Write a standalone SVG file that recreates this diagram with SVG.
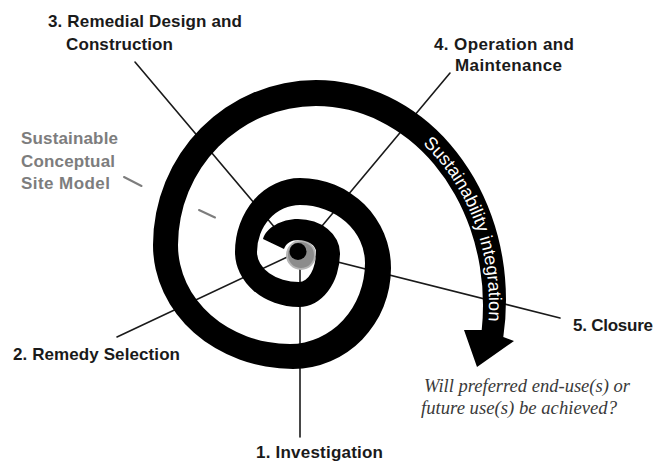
<svg xmlns="http://www.w3.org/2000/svg" width="654" height="464" viewBox="0 0 654 464">
<style>
.lbl{font-family:"Liberation Sans",Arial,sans-serif;font-weight:bold;font-size:17px;fill:#1a1a1a}
.gray{font-family:"Liberation Sans",Arial,sans-serif;font-weight:bold;font-size:17px;fill:#7d7d7d}
.q{font-family:"Liberation Serif","Times New Roman",serif;font-style:italic;font-size:19px;fill:#3a3a3a}
.ln{stroke:#1a1a1a;stroke-width:1.6;fill:none;stroke-linecap:round}
.tick{stroke:#7d7d7d;stroke-width:2;stroke-linecap:round}
.band{font-family:"Liberation Sans",Arial,sans-serif;font-size:18px;fill:#ffffff}
</style>
<defs>
<path id="bandPath" d="M402.5,127.5 A173 205 0 0 1 486.4 340.6"/>
</defs>
<rect width="654" height="464" fill="#ffffff"/>
<g id="connectors">
<line class="ln" x1="300" y1="252" x2="300" y2="437"/>
<line class="ln" x1="117" y1="337" x2="298" y2="252"/>
<line class="ln" x1="135" y1="62" x2="276" y2="229"/>
<line class="ln" x1="450" y1="73" x2="322" y2="226"/>
<line class="ln" x1="560" y1="318" x2="298" y2="252"/>
</g>
<g id="center">
<circle cx="301" cy="255" r="14" fill="#8c8c8c" stroke="#b5b5b5" stroke-width="2"/>
</g>
<g id="spiral">
<path fill="#000000" d="M263,239 C266,228 281,219 298,219 A42 34 0 0 1 340 253 A41 54 0 0 1 299 307 A64 55 0 0 1 235 252 A65 74 0 0 1 300 178 A91 90 0 0 1 391 268 A98 101 0 0 1 293 369 A140 124 0 0 1 153 245 A163 165 0 0 1 316 80 A190 220 0 0 1 506 300 A190 220 0 0 1 503.3 337 L514 341 L477 367 L464 330 L481.7 330 A167 199 0 0 0 483 305 A167 199 0 0 0 316 106 A138 139 0 0 0 178 245 A112 99 0 0 0 290 344 A75 81 0 0 0 365 263 A65 58 0 0 0 300 205 A43 47 0 0 0 257 252 A42 30 0 0 0 299 282 A17 30 0 0 0 316 252 A18 12 0 0 0 298 240 C292,240 286,243 284,249 Z"/>
<text class="band"><textPath href="#bandPath" startOffset="26">Sustainability integration</textPath></text>
</g>
<g id="center-dot">
<circle cx="298" cy="251.5" r="8.5" fill="#000000"/>
</g>
<g id="stage1"><text class="lbl" x="256" y="458" textLength="127">1. Investigation</text></g>
<g id="stage2"><text class="lbl" x="13" y="360" textLength="167">2. Remedy Selection</text></g>
<g id="stage3"><text class="lbl" x="48" y="27" textLength="194">3. Remedial Design and</text><text class="lbl" x="66" y="50" textLength="107">Construction</text></g>
<g id="stage4"><text class="lbl" x="434" y="50" textLength="140">4. Operation and</text><text class="lbl" x="455" y="71" textLength="107">Maintenance</text></g>
<g id="stage5"><text class="lbl" x="573" y="331" textLength="80">5. Closure</text></g>
<g id="csm">
<text class="gray" x="21" y="144" textLength="97">Sustainable</text>
<text class="gray" x="21" y="167" textLength="94">Conceptual</text>
<text class="gray" x="21" y="189" textLength="89">Site Model</text>
<line class="tick" x1="124" y1="177" x2="141.5" y2="186"/>
<line class="tick" x1="199" y1="210" x2="215" y2="217.5"/>
</g>
<g id="question">
<text class="q" x="424" y="392" textLength="206" lengthAdjust="spacingAndGlyphs">Will preferred end-use(s) or</text>
<text class="q" x="421" y="414" textLength="196" lengthAdjust="spacingAndGlyphs">future use(s) be achieved?</text>
</g>
</svg>
